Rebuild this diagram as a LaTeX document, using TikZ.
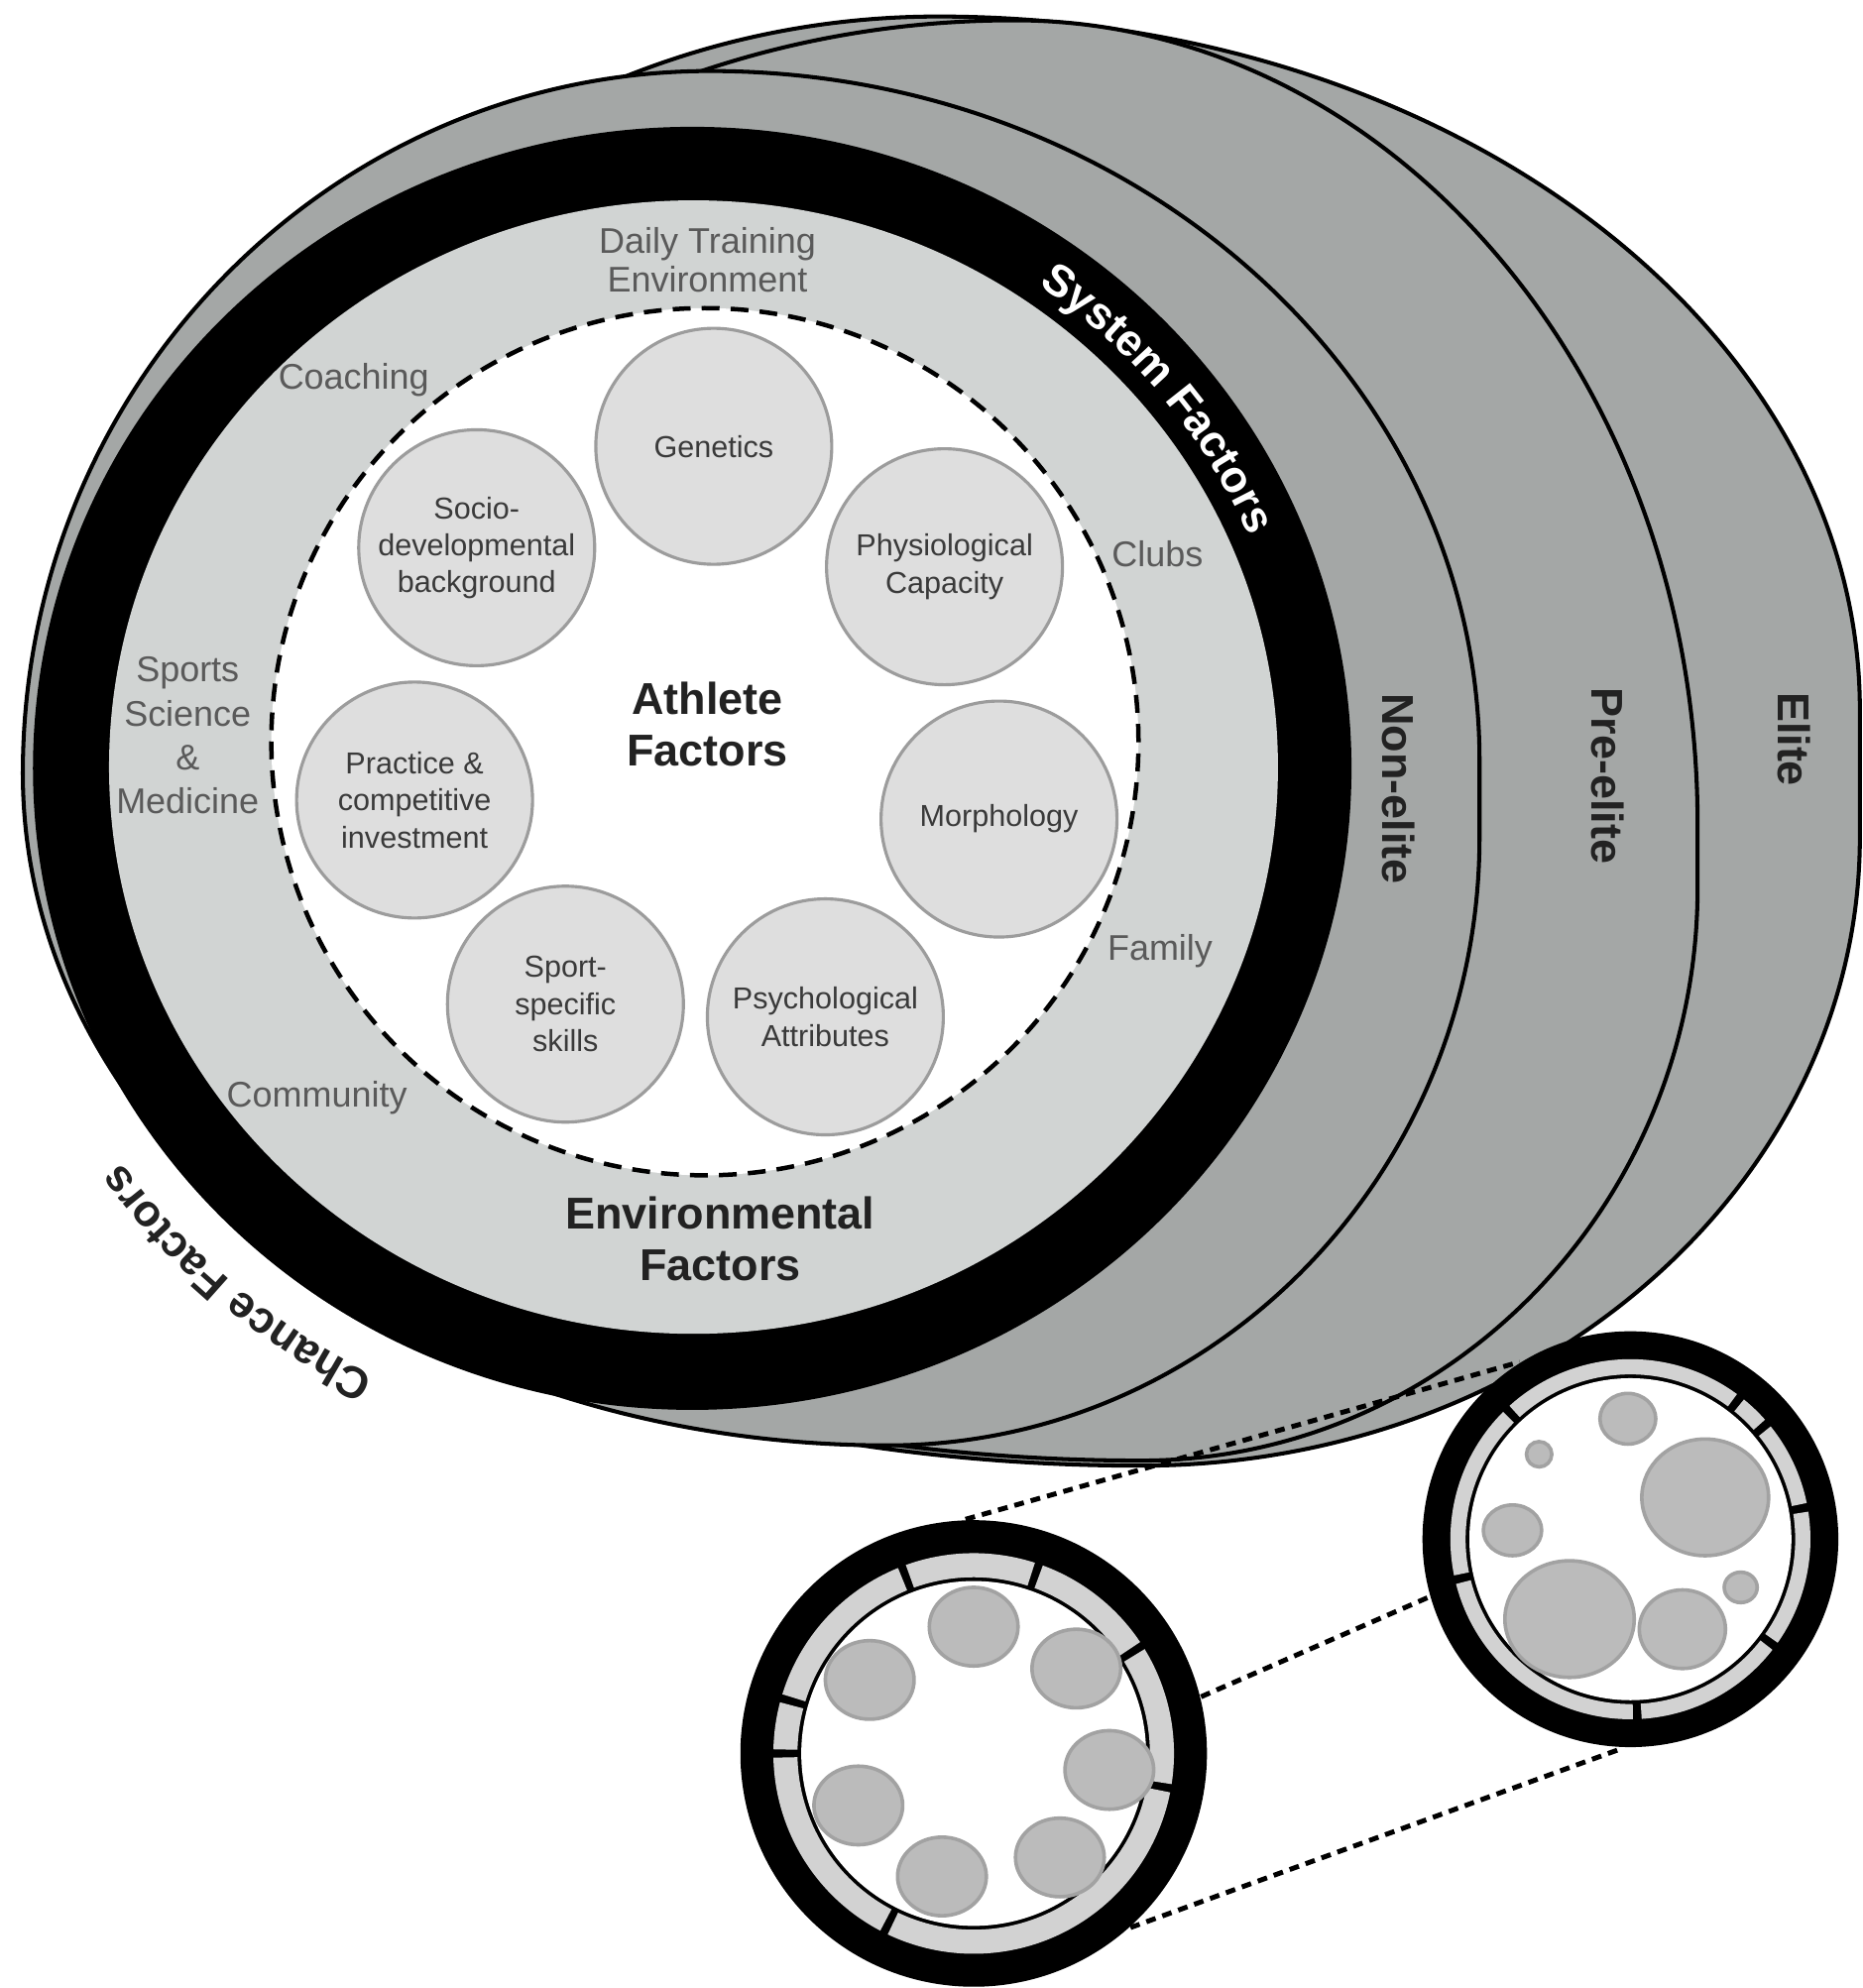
\documentclass[tikz,border=0pt]{standalone}
\usepackage{fontspec}
\setmainfont{Liberation Sans}
\usetikzlibrary{decorations.text}
\definecolor{backg}{HTML}{A4A7A6}
\definecolor{envg}{HTML}{D1D4D3}
\definecolor{circg}{HTML}{DEDEDE}
\definecolor{circb}{HTML}{9C9C9C}
\definecolor{blobg}{HTML}{BBBBBB}
\definecolor{blobb}{HTML}{A2A2A2}
\definecolor{segg}{HTML}{D2D2D2}
\definecolor{envtxt}{HTML}{5A5A5A}
\definecolor{ctxt}{HTML}{3A3A3A}
\definecolor{btxt}{HTML}{222222}
\newcommand{\ringseg}[5]{%
  \fill[segg] (#1) ++(#2:#5) arc[start angle=#2, end angle=#3, radius=#5] -- ++({#3+180}:{#5-#4}) arc[start angle=#3, end angle=#2, radius=#4] -- cycle;}
\begin{document}
\begin{tikzpicture}[x=0.01cm, y=0.01cm,
  disc/.style={fill=backg, draw=black, line width=0.9pt, line join=round},
  factor/.style={circle, minimum size=1.86cm, inner sep=0pt, fill=circg, draw=circb, line width=0.7pt, align=center, font=\fontsize{6.8}{8.3}\selectfont, text=ctxt},
  envlabel/.style={align=center, inner sep=0pt, font=\fontsize{8}{9.6}\selectfont, text=envtxt},
  biglabel/.style={align=center, inner sep=0pt, font=\bfseries\fontsize{10}{11.6}\selectfont, text=btxt},
  levellabel/.style={inner sep=0pt, rotate=-90, font=\bfseries\fontsize{10}{12}\selectfont, text=btxt},
  blob/.style={fill=blobg, draw=blobb, line width=0.8pt},
  conn/.style={draw=black, line width=1.1pt, dash pattern=on 2.2pt off 1.6pt},
  ringnode/.style={circle, inner sep=0pt, draw=none}]
\useasboundingbox (0,0) rectangle (1469,-1568);
\fill[white] (0,0) rectangle (1469,-1568);

% ---- back discs: Elite, Pre-elite, Non-elite ----
\draw[disc] (740,-13) arc[start angle=90, end angle=0, x radius=727, y radius=547]
  -- (1467,-660) arc[start angle=0, end angle=-90, x radius=567, y radius=496]
  arc[start angle=270, end angle=180, x radius=835, y radius=456]
  arc[start angle=180, end angle=90, x radius=675, y radius=687] -- cycle;
\draw[disc] (800,-16) arc[start angle=90, end angle=0, x radius=539, y radius=634]
  -- (1339,-700) arc[start angle=0, end angle=-90, x radius=439, y radius=452]
  arc[start angle=270, end angle=180, x radius=830, y radius=452]
  arc[start angle=180, end angle=90, x radius=730, y radius=684] -- cycle;
\draw[disc] (560,-56) arc[start angle=90, end angle=0, x radius=607, y radius=544]
  -- (1167,-660) arc[start angle=0, end angle=-90, x radius=467, y radius=480]
  arc[start angle=270, end angle=180, x radius=682, y radius=530]
  arc[start angle=180, end angle=90, x radius=542, y radius=554] -- cycle;

% ---- front disc ----
\fill[black] (546,-606) ellipse [x radius=520, y radius=506];
\fill[envg] (547,-605) ellipse [x radius=461, y radius=447];
\draw[fill=white, line width=1pt, dash pattern=on 4pt off 2.5pt] (556,-585) circle [radius=342];

% ---- athlete factor circles ----
\node[factor] (gen) at (563,-352) {Genetics};
\node[factor] (phys) at (745,-447) {Physiological\\Capacity};
\node[factor] (morph) at (788,-646) {Morphology};
\node[factor] (psych) at (651,-802) {Psychological\\Attributes};
\node[factor] (sport) at (446,-792) {Sport-\\specific\\skills};
\node[factor] (prac) at (327,-631) {Practice \&\\competitive\\investment};
\node[factor] (socio) at (376,-432) {Socio-\\developmental\\background};

% ---- labels ----
\node[biglabel] (athlete) at (558,-571) {Athlete\\Factors};
\node[biglabel] (envf) at (568,-977) {Environmental\\Factors};
\node[envlabel, font=\fontsize{8}{8.6}\selectfont] (dte) at (558,-205) {Daily Training\\Environment};
\node[envlabel] (coach) at (279,-300) {Coaching};
\node[envlabel] (clubs) at (913,-437) {Clubs};
\node[envlabel, font=\fontsize{8}{9.8}\selectfont] (ssm) at (148,-580) {Sports\\Science\\\&\\Medicine};
\node[envlabel] (family) at (915,-750) {Family};
\node[envlabel] (comm) at (250,-866) {Community};
\node[levellabel] (nonelite) at (1103,-622) {Non-elite};
\node[levellabel] (preelite) at (1268,-612) {Pre-elite};
\node[levellabel] (elite) at (1415,-583) {Elite};

\path[decorate, decoration={text along path, text align=center, text color=white,
  text={|\bfseries\fontsize{10}{12}\selectfont|System Factors}}]
  (546,-606) ++(75:478 and 464) arc[start angle=75, end angle=3, x radius=478, y radius=464];
\path[decorate, decoration={text along path, text align=center, text color=btxt,
  text={|\bfseries\fontsize{10}{12}\selectfont|Chance Factors}}]
  (546,-606) ++(262:552 and 538) arc[start angle=262, end angle=196, x radius=552, y radius=538];

% ---- cross sections ----
\coordinate (L) at (768,-1383);
\coordinate (R) at (1286,-1214);
\node[ringnode, minimum size=3.68cm] (Lring) at (L) {};
\node[ringnode, minimum size=3.28cm] (Rring) at (R) {};
\draw[conn] (Lring.92) -- (Rring.122);
\draw[conn] (Lring.14) -- (Rring.196);
\draw[conn] (Lring.-48) -- (Rring.268);

\fill[black] (L) circle [radius=184];
\ringseg{L}{72.2}{109.8}{139}{158}
\ringseg{L}{33.8}{69.8}{139}{158}
\ringseg{L}{-8.8}{31.4}{139}{158}
\ringseg{L}{-115.4}{-11.2}{139}{158}
\ringseg{L}{-178.8}{-117.8}{139}{158}
\ringseg{L}{165.2}{178.8}{139}{158}
\ringseg{L}{112.2}{162.8}{139}{158}
\fill[white] (L) circle [radius=136];
\foreach \p in {(768,-1283),(849,-1316),(875,-1396),(836,-1465),(743,-1480),(677,-1424),(686,-1325)}
  \draw[blob] \p ellipse [x radius=35, y radius=31];

\fill[black] (R) circle [radius=164];
\ringseg{R}{53.7}{132.2}{130}{142}
\ringseg{R}{41.6}{50.9}{130}{142}
\ringseg{R}{11.6}{38.8}{130}{142}
\ringseg{R}{-35.1}{8.8}{130}{142}
\ringseg{R}{-86.4}{-37.9}{130}{142}
\ringseg{R}{-165.6}{-89.2}{130}{142}
\ringseg{R}{135}{191.6}{130}{142}
\fill[white] (R) circle [radius=127];
\draw[blob] (1284,-1119) ellipse [x radius=22, y radius=20];
\draw[blob] (1214,-1147) ellipse [x radius=10, y radius=10];
\draw[blob] (1345,-1181) ellipse [x radius=50, y radius=46];
\draw[blob] (1193,-1207) ellipse [x radius=23, y radius=20];
\draw[blob] (1238,-1277) ellipse [x radius=51, y radius=46];
\draw[blob] (1327,-1285) ellipse [x radius=34, y radius=31];
\draw[blob] (1373,-1252) ellipse [x radius=13, y radius=12];
\end{tikzpicture}
\end{document}
